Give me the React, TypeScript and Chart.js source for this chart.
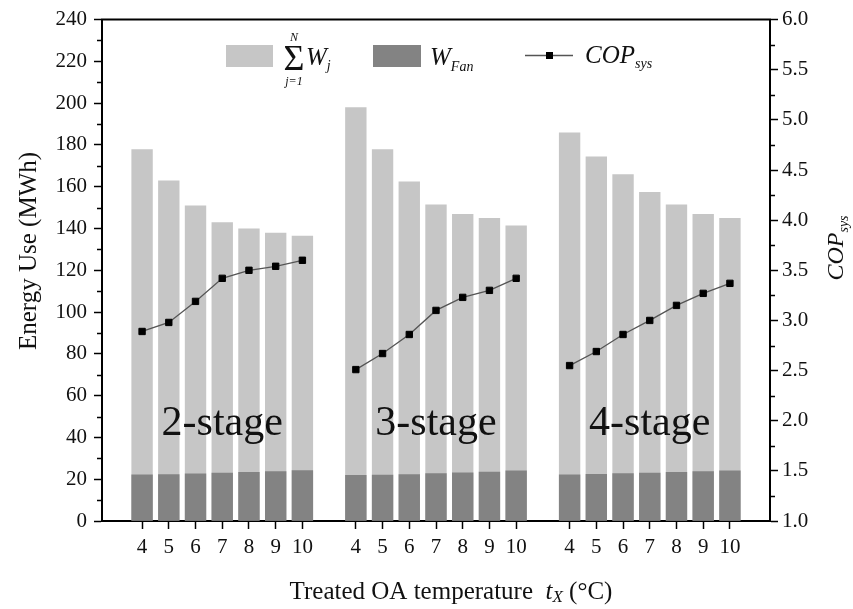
import React, { useEffect, useRef } from "react";
import { Chart, registerables } from "chart.js";

Chart.register(...registerables);

// ---- data ----
const temps = ["4", "5", "6", "7", "8", "9", "10"];
const stageNames = ["2-stage", "3-stage", "4-stage"];

const total2 = [178, 163, 151, 143, 140, 138, 136.5];
const total3 = [198, 178, 162.5, 151.5, 147, 145, 141.5];
const total4 = [186, 174.5, 166, 157.5, 151.5, 147, 145];

const fan2 = [22.2, 22.4, 22.7, 23.1, 23.4, 23.8, 24.3];
const fan3 = [22.0, 22.1, 22.4, 22.8, 23.2, 23.6, 24.2];
const fan4 = [22.3, 22.5, 22.8, 23.1, 23.4, 23.8, 24.2];

const cop2 = [2.89, 2.98, 3.19, 3.42, 3.5, 3.54, 3.6];
const cop3 = [2.51, 2.67, 2.86, 3.1, 3.23, 3.3, 3.42];
const cop4 = [2.55, 2.69, 2.86, 3.0, 3.15, 3.27, 3.37];

const leftTicks = { min: 0, max: 240, step: 20, minor: 10 };
const rightTicks = { min: 1, max: 6, step: 0.5, minor: 0.25 };

// build padded arrays: blank category before, between and after each group
function pad<T>(groups: T[][], blank: T): T[] {
  const out: T[] = [blank];
  groups.forEach((g) => {
    out.push(...g);
    out.push(blank);
  });
  return out;
}

const labels = pad([temps, temps, temps], "");
const totalData = pad([total2, total3, total4], null as any);
const fanData = pad([fan2, fan3, fan4], null as any);
const copData = pad([cop2, cop3, cop4], null as any);

const SERIF = "'Liberation Serif', 'Times New Roman', serif";
const LIGHT = "#c6c6c6";
const DARK = "#838383";

function drawSubText(
  ctx: CanvasRenderingContext2D,
  parts: { t: string; font: string; dy?: number }[],
  x: number,
  y: number,
  align: "left" | "center"
) {
  let w = 0;
  parts.forEach((p) => {
    ctx.font = p.font;
    w += ctx.measureText(p.t).width;
  });
  let cx = align === "center" ? x - w / 2 : x;
  ctx.textAlign = "left";
  ctx.textBaseline = "alphabetic";
  parts.forEach((p) => {
    ctx.font = p.font;
    ctx.fillText(p.t, cx, y + (p.dy || 0));
    cx += ctx.measureText(p.t).width;
  });
}

const decorPlugin = {
  id: "decor",
  afterDraw(chart: any) {
    const ctx: CanvasRenderingContext2D = chart.ctx;
    const { left, right, top } = chart.chartArea;
    const y = chart.scales.y;
    const y1 = chart.scales.y1;
    const x = chart.scales.x;
    ctx.save();
    ctx.strokeStyle = "#000";
    ctx.fillStyle = "#111";

    // top frame line
    ctx.lineWidth = 2;
    ctx.beginPath();
    ctx.moveTo(left - 1, top);
    ctx.lineTo(right + 1, top);
    ctx.stroke();

    // minor ticks
    ctx.lineWidth = 1.5;
    ctx.beginPath();
    for (let v = leftTicks.min + leftTicks.minor; v < leftTicks.max; v += leftTicks.step) {
      const py = Math.round(y.getPixelForValue(v)) + 0.5;
      ctx.moveTo(left - 5, py);
      ctx.lineTo(left, py);
    }
    for (let v = rightTicks.min + rightTicks.minor; v < rightTicks.max; v += rightTicks.step) {
      const py = Math.round(y1.getPixelForValue(v)) + 0.5;
      ctx.moveTo(right, py);
      ctx.lineTo(right + 5, py);
    }
    ctx.stroke();

    // stage labels
    ctx.font = `42px ${SERIF}`;
    ctx.textAlign = "center";
    ctx.textBaseline = "alphabetic";
    stageNames.forEach((name, i) => {
      const idx = 1 + i * (temps.length + 1) + 3;
      ctx.fillText(name, x.getPixelForValue(idx), y.getPixelForValue(41));
    });

    // left axis title
    ctx.save();
    ctx.translate(36, 251);
    ctx.rotate(-Math.PI / 2);
    ctx.font = `25px ${SERIF}`;
    ctx.textAlign = "center";
    ctx.fillText("Energy Use (MWh)", 0, 0);
    ctx.restore();

    // right axis title
    ctx.save();
    ctx.translate(843, 248);
    ctx.rotate(-Math.PI / 2);
    drawSubText(
      ctx,
      [
        { t: "COP", font: `italic 24px ${SERIF}` },
        { t: "sys", font: `italic 14px ${SERIF}`, dy: 5 },
      ],
      0,
      0,
      "center"
    );
    ctx.restore();

    // x axis title
    drawSubText(
      ctx,
      [
        { t: "Treated OA temperature  ", font: `25px ${SERIF}` },
        { t: "t", font: `italic 25px ${SERIF}` },
        { t: "X", font: `italic 17px ${SERIF}`, dy: 3 },
        { t: " (\u00B0C)", font: `25px ${SERIF}` },
      ],
      451,
      599,
      "center"
    );

    // legend
    ctx.fillStyle = LIGHT;
    ctx.fillRect(226, 45, 47, 22);
    ctx.fillStyle = DARK;
    ctx.fillRect(373, 45, 48, 22);
    ctx.fillStyle = "#111";
    ctx.textAlign = "center";
    ctx.font = `36px ${SERIF}`;
    ctx.fillText("\u03A3", 294, 70);
    ctx.font = `italic 12px ${SERIF}`;
    ctx.fillText("N", 294, 41);
    ctx.fillText("j=1", 294, 85);
    drawSubText(
      ctx,
      [
        { t: "W", font: `italic 25px ${SERIF}` },
        { t: "j", font: `italic 14px ${SERIF}`, dy: 5 },
      ],
      306,
      65,
      "left"
    );
    drawSubText(
      ctx,
      [
        { t: "W", font: `italic 25px ${SERIF}` },
        { t: "Fan", font: `italic 14px ${SERIF}`, dy: 6 },
      ],
      430,
      65,
      "left"
    );
    ctx.strokeStyle = "#555";
    ctx.lineWidth = 1.3;
    ctx.beginPath();
    ctx.moveTo(525, 55.5);
    ctx.lineTo(573, 55.5);
    ctx.stroke();
    ctx.fillStyle = "#000";
    ctx.fillRect(546, 52, 7, 7);
    ctx.fillStyle = "#111";
    drawSubText(
      ctx,
      [
        { t: "COP", font: `italic 25px ${SERIF}` },
        { t: "sys", font: `italic 14px ${SERIF}`, dy: 5 },
      ],
      585,
      63,
      "left"
    );

    ctx.restore();
  },
};

export default function App() {
  const ref = useRef<HTMLCanvasElement | null>(null);

  useEffect(() => {
    document.body.style.margin = "0";
    if (!ref.current) return;
    const tickFont = { family: SERIF, size: 21 };
    const chart = new Chart(ref.current, {
      type: "bar",
      data: {
        labels,
        datasets: [
          {
            type: "line",
            label: "COP_sys",
            data: copData,
            yAxisID: "y1",
            borderColor: "#555",
            borderWidth: 1.3,
            pointStyle: "rect",
            pointRadius: 4.5,
            pointBackgroundColor: "#000",
            pointBorderColor: "#000",
            pointBorderWidth: 1,
            spanGaps: false,
            tension: 0,
            order: 0,
          } as any,
          {
            type: "bar",
            label: "W_Fan",
            data: fanData,
            yAxisID: "y",
            backgroundColor: DARK,
            barPercentage: 0.8,
            categoryPercentage: 1,
            grouped: false,
            order: 1,
          } as any,
          {
            type: "bar",
            label: "Sum W_j",
            data: totalData,
            yAxisID: "y",
            backgroundColor: LIGHT,
            barPercentage: 0.8,
            categoryPercentage: 1,
            grouped: false,
            order: 2,
          } as any,
        ],
      },
      options: {
        responsive: false,
        animation: false,
        layout: { padding: { top: 15, left: 0, right: 0, bottom: 0 } },
        plugins: {
          legend: { display: false },
          tooltip: { enabled: false },
        },
        scales: {
          x: {
            type: "category",
            offset: true,
            grid: {
              display: true,
              drawOnChartArea: false,
              offset: false,
              tickLength: 8,
              tickWidth: 1.5,
              tickColor: (c: any) => (labels[c.index] ? "#000" : "rgba(0,0,0,0)"),
            },
            border: { color: "#000", width: 2 },
            ticks: {
              font: tickFont,
              color: "#111",
              padding: 6,
              maxRotation: 0,
              autoSkip: false,
            },
            afterFit: (s: any) => {
              s.height = 88;
            },
          },
          y: {
            position: "left",
            min: leftTicks.min,
            max: leftTicks.max,
            ticks: { stepSize: leftTicks.step, font: tickFont, color: "#111", padding: 7 },
            grid: { drawOnChartArea: false, tickLength: 8, tickWidth: 1.5, tickColor: "#000" },
            border: { color: "#000", width: 2 },
            afterFit: (s: any) => {
              s.width = 102;
            },
          },
          y1: {
            position: "right",
            min: rightTicks.min,
            max: rightTicks.max,
            ticks: {
              stepSize: rightTicks.step,
              font: tickFont,
              color: "#111",
              padding: 4,
              callback: (v: any) => Number(v).toFixed(1),
            },
            grid: { drawOnChartArea: false, tickLength: 8, tickWidth: 1.5, tickColor: "#000" },
            border: { color: "#000", width: 2 },
            afterFit: (s: any) => {
              s.width = 83;
            },
          },
        },
      } as any,
      plugins: [decorPlugin],
    });
    return () => chart.destroy();
  }, []);

  return (
    <div style={{ width: 853, height: 609, background: "#fff" }}>
      <canvas ref={ref} width={853} height={609} style={{ display: "block" }} />
    </div>
  );
}
